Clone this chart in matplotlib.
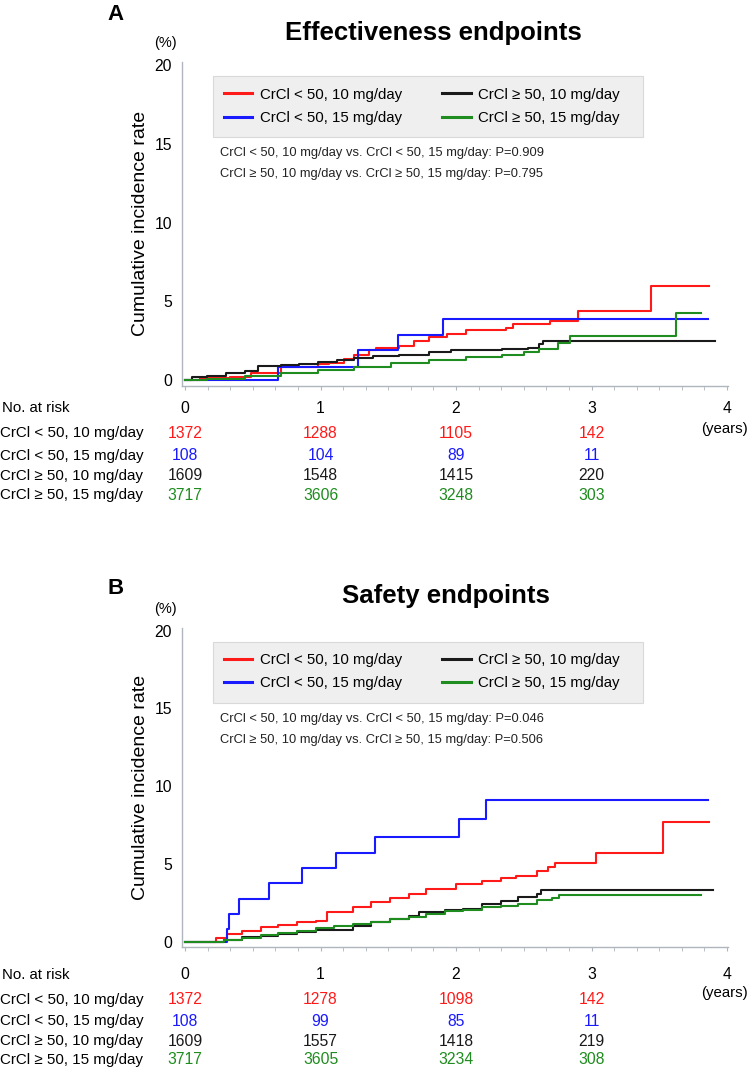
import matplotlib
matplotlib.use("Agg")
import matplotlib.pyplot as plt
from matplotlib.ticker import MultipleLocator
from matplotlib.transforms import blended_transform_factory
from matplotlib.patches import Rectangle

plt.rcParams['font.family'] = ['Liberation Sans', 'DejaVu Sans']

W, H = 749, 1071

# ---- data ----
groups = ["CrCl < 50, 10 mg/day", "CrCl < 50, 15 mg/day",
          "CrCl \u2265 50, 10 mg/day", "CrCl \u2265 50, 15 mg/day"]
colors = ["#ff1a1a", "#1a1aff", "#1a1a1a", "#1e8c1e"]
years = [0, 1, 2, 3, 4]
risk_years = [0, 1, 2, 3]

# A: effectiveness endpoints
A_red_t = [0, 0.11, 0.33, 0.49, 0.71, 0.98, 1.06, 1.17, 1.25, 1.36, 1.41, 1.58, 1.69, 1.80, 1.93, 2.07, 2.37, 2.42, 2.69, 2.90, 3.44, 3.87]
A_red_y = [0, 0.10, 0.21, 0.42, 0.83, 1.00, 1.08, 1.35, 1.56, 1.88, 2.04, 2.19, 2.50, 2.75, 2.92, 3.17, 3.29, 3.54, 3.75, 4.38, 5.98, 5.98]
A_blue_t = [0, 0.69, 1.28, 1.57, 1.905, 3.86]
A_blue_y = [0, 0.85, 1.88, 2.85, 3.90, 3.90]
A_black_t = [0, 0.05, 0.16, 0.30, 0.44, 0.54, 0.71, 0.84, 0.98, 1.12, 1.25, 1.39, 1.58, 1.80, 1.96, 2.34, 2.53, 2.61, 2.64, 3.91]
A_black_y = [0, 0.17, 0.25, 0.42, 0.56, 0.88, 0.94, 1.04, 1.15, 1.25, 1.42, 1.50, 1.56, 1.77, 1.92, 1.98, 2.04, 2.29, 2.50, 2.50]
A_green_t = [0, 0.16, 0.44, 0.71, 0.98, 1.25, 1.52, 1.80, 2.07, 2.34, 2.50, 2.61, 2.75, 2.84, 3.62, 3.81]
A_green_y = [0, 0.04, 0.25, 0.46, 0.63, 0.83, 1.08, 1.29, 1.46, 1.60, 1.77, 1.98, 2.33, 2.81, 4.27, 4.27]
A_risk_red = [1372, 1288, 1105, 142]
A_risk_blue = [108, 104, 89, 11]
A_risk_black = [1609, 1548, 1415, 220]
A_risk_green = [3717, 3606, 3248, 303]
A_pvals = ["CrCl < 50, 10 mg/day vs. CrCl < 50, 15 mg/day: P=0.909",
           "CrCl \u2265 50, 10 mg/day vs. CrCl \u2265 50, 15 mg/day: P=0.795"]

# B: safety endpoints
B_red_t = [0, 0.23, 0.31, 0.42, 0.56, 0.69, 0.83, 0.97, 1.05, 1.24, 1.37, 1.51, 1.65, 1.78, 2.00, 2.19, 2.33, 2.44, 2.60, 2.68, 2.73, 3.03, 3.53, 3.87]
B_red_y = [0, 0.21, 0.49, 0.71, 0.92, 1.07, 1.24, 1.35, 1.88, 2.20, 2.53, 2.78, 3.06, 3.38, 3.70, 3.92, 4.07, 4.24, 4.52, 4.78, 5.05, 5.70, 7.67, 7.67]
B_blue_t = [0, 0.313, 0.327, 0.395, 0.618, 0.865, 1.116, 1.401, 2.019, 2.223, 3.856]
B_blue_y = [0, 0.81, 1.78, 2.74, 3.75, 4.71, 5.70, 6.75, 7.86, 9.12, 9.12]
B_black_t = [0, 0.29, 0.42, 0.56, 0.69, 0.83, 0.97, 1.24, 1.37, 1.51, 1.65, 1.73, 1.92, 2.05, 2.19, 2.33, 2.46, 2.60, 2.63, 3.90]
B_black_y = [0, 0.11, 0.28, 0.34, 0.49, 0.64, 0.77, 1.03, 1.28, 1.46, 1.67, 1.93, 2.06, 2.10, 2.42, 2.63, 2.85, 3.06, 3.34, 3.34]
B_green_t = [0, 0.29, 0.42, 0.56, 0.69, 0.83, 0.97, 1.10, 1.24, 1.37, 1.51, 1.65, 1.78, 1.92, 2.05, 2.19, 2.33, 2.46, 2.60, 2.71, 2.76, 3.81]
B_green_y = [0, 0.11, 0.21, 0.39, 0.54, 0.71, 0.86, 0.99, 1.13, 1.28, 1.46, 1.56, 1.78, 1.95, 2.06, 2.21, 2.31, 2.42, 2.68, 2.78, 3.00, 3.00]
B_risk_red = [1372, 1278, 1098, 142]
B_risk_blue = [108, 99, 85, 11]
B_risk_black = [1609, 1557, 1418, 219]
B_risk_green = [3717, 3605, 3234, 308]
B_pvals = ["CrCl < 50, 10 mg/day vs. CrCl < 50, 15 mg/day: P=0.046",
           "CrCl \u2265 50, 10 mg/day vs. CrCl \u2265 50, 15 mg/day: P=0.506"]


def fx(x):
    return x / W


def fy(y):
    return 1 - y / H


fig = plt.figure(figsize=(W / 100, H / 100), dpi=100)


def panel(letter, letter_y, title, title_x, title_y, top, bottom, curves, risks, pvals,
          lab_y, rows_y, years_y, pad):
    ax = fig.add_axes([fx(181.6), fy(bottom), fx(728.4) - fx(181.6), fy(top) - fy(bottom)])
    for (t, y), c in zip(curves, colors):
        ax.plot(t, y, drawstyle="steps-post", color=c, lw=1.5)
    ax.set_xlim(-0.025, 4.01)
    ax.set_ylim(-0.35, 20.2)
    for s in ["top", "right"]:
        ax.spines[s].set_visible(False)
    for s in ["left", "bottom"]:
        ax.spines[s].set_color("#b0b6bd")
        ax.spines[s].set_linewidth(1.0)
    ax.set_yticks([0, 5, 10, 15, 20])
    ax.tick_params(axis="y", length=0, pad=7, labelsize=11.3)
    ax.set_xticks(years)
    ax.xaxis.set_minor_locator(MultipleLocator(1 / 6))
    ax.tick_params(axis="x", which="both", length=3, color="#b0b6bd", direction="out",
                   labelsize=11.3, pad=pad)
    ax.set_ylabel("Cumulative incidence rate", fontsize=14, labelpad=4)

    fig.text(fx(116), fy(letter_y), letter, fontsize=16, fontweight="bold", ha="center", va="center")
    fig.text(fx(title_x), fy(title_y), title, fontsize=18.5, fontweight="bold", ha="center", va="center")
    fig.text(fx(165), fy(top - 19), "(%)", fontsize=10.5, ha="center", va="center")

    # legend box (grey panel behind the legend entries)
    ax.add_patch(Rectangle((fx(213.5), fy(top + 75)), fx(643) - fx(213.5), fy(top + 14) - fy(top + 75),
                           transform=fig.transFigure, facecolor="#efefef", edgecolor="#d9d9d9",
                           lw=0.8, clip_on=False, zorder=0.5))
    leg = ax.legend(groups, loc="upper left", ncol=2,
                    bbox_to_anchor=(fx(223.5), fy(top + 25.5)),
                    bbox_transform=fig.transFigure, fontsize=10.8, frameon=False,
                    handlelength=1.9, handletextpad=0.5, borderpad=0, labelspacing=0.62,
                    borderaxespad=0, columnspacing=2.7)
    leg.set_zorder(5)
    for h in leg.legend_handles:
        h.set_linewidth(2.2)

    for i, p in enumerate(pvals):
        fig.text(fx(220), fy(top + 91 + 21 * i), p, fontsize=9.3, ha="left", va="center", color="#222222")

    tr = blended_transform_factory(ax.transData, fig.transFigure)
    fig.text(fx(2), fy(lab_y), "No. at risk", fontsize=10.8, ha="left", va="center")
    ax.text(3.98, fy(years_y), "(years)", transform=tr, fontsize=10.8, ha="center", va="center")
    for row_y, g, r, c in zip(rows_y, groups, risks, colors):
        fig.text(fx(0), fy(row_y), g, fontsize=10.9, ha="left", va="center")
        for yr, n in zip(risk_years, r):
            ax.text(yr, fy(row_y), str(n), transform=tr, fontsize=11.3, ha="center", va="center", color=c)
    return ax


panel("A", 15, "Effectiveness endpoints", 433, 33, 62, 385.5,
      [(A_red_t, A_red_y), (A_blue_t, A_blue_y), (A_black_t, A_black_y), (A_green_t, A_green_y)],
      [A_risk_red, A_risk_blue, A_risk_black, A_risk_green], A_pvals,
      408, [433, 456, 476, 495], 429, 8.0)

panel("B", 588, "Safety endpoints", 446, 596, 627.6, 947,
      [(B_red_t, B_red_y), (B_blue_t, B_blue_y), (B_black_t, B_black_y), (B_green_t, B_green_y)],
      [B_risk_red, B_risk_blue, B_risk_black, B_risk_green], B_pvals,
      975, [1000, 1021, 1041, 1060], 993, 11.5)

fig.savefig("out.png", dpi=100)
